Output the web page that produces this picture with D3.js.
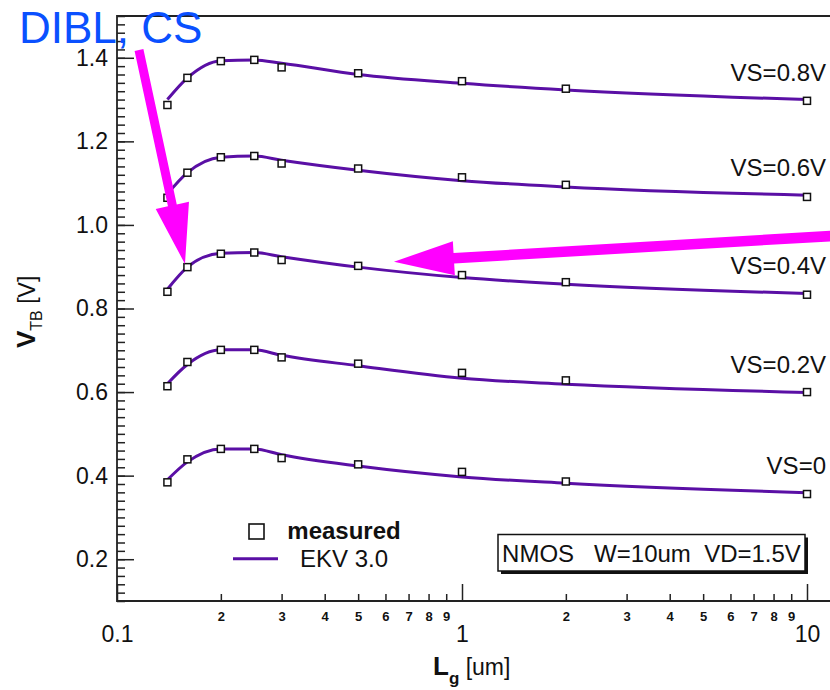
<!DOCTYPE html>
<html>
<head>
<meta charset="utf-8">
<script src="https://cdn.jsdelivr.net/npm/d3@7"></script>
<style>
  body { margin: 0; background: #fff; }
  svg { display: block; font-family: "Liberation Sans", Arial, sans-serif; }
</style>
</head>
<body>
<div id="chart"></div>
<script>
// Gate length (um) of every device
const lengths = [0.14, 0.16, 0.2, 0.25, 0.3, 0.5, 1, 2, 10];
const seriesLabels = ["VS=0.8V", "VS=0.6V", "VS=0.4V", "VS=0.2V", "VS=0"];

// measured VTB [V]
const meas08 = [1.287, 1.352, 1.392, 1.395, 1.377, 1.363, 1.344, 1.326, 1.297];
const meas06 = [1.065, 1.125, 1.162, 1.165, 1.147, 1.135, 1.114, 1.096, 1.067];
const meas04 = [0.840, 0.899, 0.931, 0.934, 0.916, 0.902, 0.880, 0.863, 0.833];
const meas02 = [0.614, 0.672, 0.701, 0.701, 0.683, 0.668, 0.646, 0.628, 0.600];
const meas00 = [0.384, 0.439, 0.464, 0.464, 0.442, 0.427, 0.409, 0.386, 0.356];

// EKV 3.0 model VTB [V]
const ekv08 = [1.300, 1.352, 1.393, 1.395, 1.387, 1.360, 1.339, 1.323, 1.300];
const ekv06 = [1.074, 1.125, 1.162, 1.165, 1.155, 1.131, 1.106, 1.091, 1.071];
const ekv04 = [0.846, 0.899, 0.932, 0.934, 0.924, 0.899, 0.874, 0.858, 0.836];
const ekv02 = [0.620, 0.666, 0.701, 0.701, 0.688, 0.663, 0.633, 0.619, 0.599];
const ekv00 = [0.390, 0.433, 0.464, 0.464, 0.450, 0.423, 0.397, 0.382, 0.359];

// axis ticks
const xMajor = [0.1, 1, 10];
const xMajorLabels = ["0.1", "1", "10"];
const xMinor = [0.2, 0.3, 0.4, 0.5, 0.6, 0.7, 0.8, 0.9, 2, 3, 4, 5, 6, 7, 8, 9];
const xMinorLabels = ["2", "3", "4", "5", "6", "7", "8", "9", "2", "3", "4", "5", "6", "7", "8", "9"];
const yMajor = [0.2, 0.4, 0.6, 0.8, 1.0, 1.2, 1.4];
const yMajorLabels = ["0.2", "0.4", "0.6", "0.8", "1.0", "1.2", "1.4"];
const yMinor = d3.range(5, 76).map(i => +(i * 0.02).toFixed(2));

// annotation arrows, in data units [um, V]
const arrowFrom = [[0.1158, 1.4186], [11.82, 0.9735]];
const arrowTo = [[0.1574, 0.9065], [0.635, 0.912]];

const measured = [meas08, meas06, meas04, meas02, meas00];
const model = [ekv08, ekv06, ekv04, ekv02, ekv00];

const width = 830, height = 690;
const plotLeft = 117, plotTop = 16, plotBottom = 601;
const lineColor = "#5a0fa5";

const svg = d3.select("#chart").append("svg")
  .attr("width", width)
  .attr("height", height);

const x = d3.scaleLog().domain([0.1, 10]).range([plotLeft, 807]);
const y = d3.scaleLinear().domain([0.1, 1.5]).range([plotBottom, plotTop]);

// axes (ticks point into the plot)
const xAxisMinor = d3.axisBottom(x).tickValues(xMinor).tickSize(-7).tickSizeOuter(0).tickPadding(11)
  .tickFormat((d, i) => xMinorLabels[i]);
const xAxisMajor = d3.axisBottom(x).tickValues(xMajor).tickSize(-17).tickSizeOuter(0).tickPadding(25)
  .tickFormat((d, i) => xMajorLabels[i]);
const yAxisMinor = d3.axisLeft(y).tickValues(yMinor).tickSize(-8).tickSizeOuter(0).tickFormat("");
const yAxisMajor = d3.axisLeft(y).tickValues(yMajor).tickSize(-17).tickSizeOuter(0).tickPadding(9)
  .tickFormat((d, i) => yMajorLabels[i]);

function styleAxis(g, fontSize, weight) {
  g.select(".domain").remove();
  g.selectAll(".tick line").attr("stroke", "#222").attr("stroke-width", 1.5);
  g.selectAll(".tick text")
    .attr("fill", "#111")
    .style("font-family", "'Liberation Sans', Arial, sans-serif")
    .style("font-size", fontSize + "px")
    .style("font-weight", weight);
}

svg.append("g").attr("transform", `translate(0,${plotBottom})`).call(xAxisMinor).call(g => styleAxis(g, 13, "bold"));
svg.append("g").attr("transform", `translate(0,${plotBottom})`).call(xAxisMajor).call(g => styleAxis(g, 23, "normal"));
svg.append("g").attr("transform", `translate(${plotLeft},0)`).call(yAxisMinor).call(g => styleAxis(g, 12, "normal"));
svg.append("g").attr("transform", `translate(${plotLeft},0)`).call(yAxisMajor).call(g => styleAxis(g, 23, "normal"));

// frame
const frame = svg.append("g").attr("stroke", "#222").attr("stroke-width", 1.8).attr("fill", "none");
frame.append("path").attr("d", `M${width},${plotTop}H${plotLeft}V${plotBottom}H${width}`);

// model curves
const line = d3.line()
  .x((d, i) => x(lengths[i]))
  .y(d => y(d))
  .curve(d3.curveMonotoneX);

svg.append("g").selectAll("path")
  .data(model)
  .join("path")
  .attr("d", line)
  .attr("fill", "none")
  .attr("stroke", lineColor)
  .attr("stroke-width", 3);

// measured points
const ms = 7;
measured.forEach(series => {
  svg.append("g").selectAll("rect")
    .data(series)
    .join("rect")
    .attr("x", (d, i) => x(lengths[i]) - ms / 2)
    .attr("y", d => y(d) - ms / 2)
    .attr("width", ms)
    .attr("height", ms)
    .attr("fill", "#fff")
    .attr("stroke", "#111")
    .attr("stroke-width", 1.5);
});

// series labels
svg.append("g").selectAll("text")
  .data(model)
  .join("text")
  .attr("x", x(10) + 19)
  .attr("y", d => y(d[d.length - 1]) - 19)
  .attr("text-anchor", "end")
  .style("font-size", "24px")
  .attr("fill", "#111")
  .text((d, i) => seriesLabels[i]);

// legend
const leg = svg.append("g");
leg.append("rect").attr("x", 249).attr("y", 524).attr("width", 15).attr("height", 15)
  .attr("fill", "#fff").attr("stroke", "#111").attr("stroke-width", 1.6);
leg.append("text").attr("x", 344).attr("y", 539).attr("text-anchor", "middle")
  .style("font-size", "24px").style("font-weight", "bold").attr("fill", "#111").text("measured");
leg.append("line").attr("x1", 233).attr("x2", 278).attr("y1", 558.7).attr("y2", 558.7)
  .attr("stroke", lineColor).attr("stroke-width", 3);
leg.append("text").attr("x", 344).attr("y", 567).attr("text-anchor", "middle")
  .style("font-size", "24px").attr("fill", "#111").text("EKV 3.0");

// condition box with shadow
const box = svg.append("g");
box.append("rect").attr("x", 501).attr("y", 537.5).attr("width", 307).attr("height", 36.5).attr("fill", "#111");
box.append("rect").attr("x", 498).attr("y", 534.5).attr("width", 307).attr("height", 36.5)
  .attr("fill", "#fff").attr("stroke", "#111").attr("stroke-width", 1.5);
box.append("text").attr("x", 651.5).attr("y", 561.5).attr("text-anchor", "middle")
  .style("font-size", "24px").style("white-space", "pre").attr("fill", "#111")
  .text("NMOS   W=10um  VD=1.5V");

// axis titles
const xt = svg.append("text").attr("x", 433).attr("y", 675).attr("fill", "#111");
xt.append("tspan").style("font-size", "26px").style("font-weight", "bold").text("L");
xt.append("tspan").attr("dy", 9).style("font-size", "17px").style("font-weight", "bold").text("g");
xt.append("tspan").attr("dy", -9).style("font-size", "23px").style("white-space", "pre").text(" [um]");

const yt = svg.append("text").attr("transform", "translate(35,348) rotate(-90)").attr("fill", "#111");
yt.append("tspan").style("font-size", "26px").style("font-weight", "bold").text("V");
yt.append("tspan").attr("dy", 7).style("font-size", "16px").text("TB");
yt.append("tspan").attr("dy", -7).style("font-size", "23px").style("white-space", "pre").text(" [V]");

// magenta arrows
function arrowPoly(p0, p1, shaft, headLen, headW) {
  const dx = p1[0] - p0[0], dy = p1[1] - p0[1];
  const len = Math.hypot(dx, dy);
  const ux = dx / len, uy = dy / len, nx = -uy, ny = ux;
  const bx = p1[0] - ux * headLen, by = p1[1] - uy * headLen;
  const pt = (cx, cy, s) => [cx + nx * s, cy + ny * s];
  return [
    pt(p0[0], p0[1], shaft / 2), pt(bx, by, shaft / 2), pt(bx, by, headW / 2),
    p1, pt(bx, by, -headW / 2), pt(bx, by, -shaft / 2), pt(p0[0], p0[1], -shaft / 2)
  ];
}
const arrowShaft = [9, 10.5];
svg.append("g").selectAll("polygon")
  .data(arrowFrom)
  .join("polygon")
  .attr("points", (d, i) => arrowPoly([x(d[0]), y(d[1])], [x(arrowTo[i][0]), y(arrowTo[i][1])], arrowShaft[i], 60, 34).join(" "))
  .attr("fill", "#ff00ff");

// annotation
svg.append("text").attr("x", 19).attr("y", 43)
  .style("font-size", "44px").attr("fill", "#0a50ff")
  .text("DIBL, CS");
</script>
</body>
</html>
